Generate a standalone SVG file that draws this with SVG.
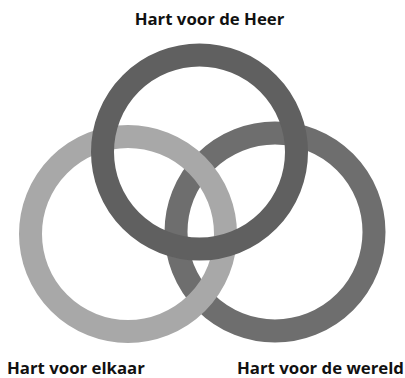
<svg xmlns="http://www.w3.org/2000/svg" width="405" height="378" viewBox="0 0 405 378">
<style>
.ring{fill:none;stroke-width:23}
.lbl{font-family:"Open Sans","Noto Sans",sans-serif;font-weight:bold;font-size:16.8px;fill:#111}
</style>
<rect width="405" height="378" fill="#fff"/>
<g id="connectors"/>
<g id="ring-wereld"><circle class="ring" cx="275" cy="232" r="99" stroke="#6e6e6e"/></g>
<g id="ring-elkaar"><circle class="ring" cx="128" cy="234" r="97.5" stroke="#a8a8a8"/></g>
<g id="ring-heer"><circle class="ring" cx="199.5" cy="152" r="97" stroke="#606060"/></g>
<g id="label-heer"><text class="lbl" x="209.5" y="25" text-anchor="middle">Hart voor de Heer</text></g>
<g id="label-elkaar"><text class="lbl" x="7" y="374">Hart voor elkaar</text></g>
<g id="label-wereld"><text class="lbl" x="237" y="374">Hart voor de wereld</text></g>
</svg>
